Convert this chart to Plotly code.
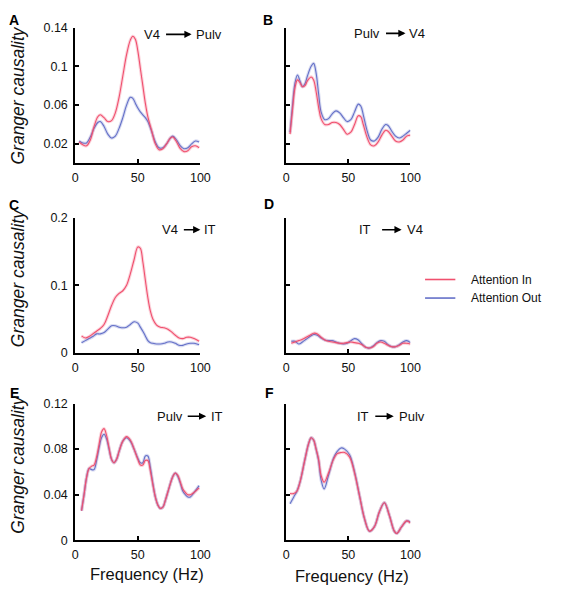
import plotly.graph_objects as go

# ---------------- data ----------------
freq_A = [3, 6, 9, 12, 15, 18, 20, 23, 26, 29, 32, 35, 38, 41, 44, 46, 48, 50, 52, 54, 56, 58, 61, 64, 67, 70, 73, 76, 78, 81, 84, 87, 90, 93, 96, 99]
a_in = [0.022, 0.019, 0.018, 0.024, 0.038, 0.048, 0.050, 0.047, 0.043, 0.044, 0.052, 0.068, 0.090, 0.112, 0.127, 0.131, 0.128, 0.116, 0.098, 0.080, 0.062, 0.048, 0.034, 0.020, 0.014, 0.015, 0.020, 0.026, 0.027, 0.022, 0.015, 0.012, 0.013, 0.017, 0.018, 0.016]
a_out = [0.023, 0.021, 0.021, 0.027, 0.036, 0.042, 0.043, 0.038, 0.030, 0.026, 0.028, 0.036, 0.047, 0.060, 0.068, 0.067, 0.062, 0.057, 0.053, 0.050, 0.047, 0.043, 0.033, 0.022, 0.016, 0.016, 0.020, 0.026, 0.028, 0.024, 0.018, 0.015, 0.016, 0.020, 0.023, 0.022]

freq_B = [3, 5, 7, 9, 11, 13, 15, 17, 20, 22, 24, 26, 28, 31, 34, 37, 40, 43, 46, 49, 52, 55, 58, 60, 62, 65, 68, 71, 74, 77, 80, 82, 85, 88, 91, 94, 97, 100]
b_in = [0.030, 0.055, 0.078, 0.086, 0.083, 0.079, 0.080, 0.085, 0.089, 0.086, 0.074, 0.058, 0.046, 0.040, 0.040, 0.042, 0.042, 0.040, 0.035, 0.030, 0.032, 0.040, 0.049, 0.048, 0.040, 0.027, 0.019, 0.018, 0.022, 0.029, 0.034, 0.033, 0.028, 0.023, 0.022, 0.024, 0.028, 0.029]
b_out = [0.032, 0.060, 0.083, 0.091, 0.085, 0.079, 0.082, 0.090, 0.100, 0.103, 0.093, 0.072, 0.053, 0.045, 0.046, 0.051, 0.054, 0.052, 0.047, 0.043, 0.045, 0.053, 0.061, 0.059, 0.050, 0.034, 0.024, 0.023, 0.027, 0.035, 0.040, 0.039, 0.033, 0.028, 0.026, 0.028, 0.031, 0.034]

freq_C = [5, 8, 11, 14, 17, 20, 23, 26, 29, 32, 35, 38, 41, 44, 47, 50, 52, 54, 56, 58, 60, 62, 65, 68, 71, 74, 77, 80, 83, 86, 89, 92, 95, 99]
c_in = [0.025, 0.022, 0.024, 0.028, 0.032, 0.036, 0.042, 0.055, 0.070, 0.082, 0.088, 0.092, 0.100, 0.117, 0.138, 0.157, 0.155, 0.135, 0.108, 0.082, 0.062, 0.050, 0.041, 0.038, 0.037, 0.035, 0.031, 0.026, 0.022, 0.021, 0.023, 0.023, 0.021, 0.017]
c_out = [0.015, 0.018, 0.021, 0.024, 0.028, 0.028, 0.030, 0.035, 0.040, 0.040, 0.038, 0.037, 0.038, 0.042, 0.046, 0.044, 0.038, 0.032, 0.025, 0.018, 0.015, 0.014, 0.013, 0.013, 0.014, 0.016, 0.016, 0.014, 0.011, 0.011, 0.013, 0.014, 0.014, 0.012]

freq_D = [4, 7, 10, 13, 16, 19, 22, 25, 28, 31, 34, 37, 40, 43, 46, 49, 52, 55, 58, 61, 64, 67, 70, 73, 76, 79, 82, 85, 88, 91, 94, 97, 100]
d_in = [0.014, 0.016, 0.018, 0.020, 0.023, 0.026, 0.029, 0.028, 0.023, 0.019, 0.017, 0.016, 0.015, 0.014, 0.014, 0.015, 0.016, 0.015, 0.014, 0.012, 0.008, 0.007, 0.009, 0.014, 0.016, 0.014, 0.011, 0.009, 0.009, 0.011, 0.014, 0.014, 0.013]
d_out = [0.017, 0.017, 0.013, 0.016, 0.020, 0.024, 0.027, 0.026, 0.022, 0.019, 0.018, 0.018, 0.016, 0.014, 0.013, 0.014, 0.018, 0.021, 0.019, 0.013, 0.008, 0.007, 0.010, 0.015, 0.018, 0.017, 0.012, 0.009, 0.009, 0.012, 0.016, 0.018, 0.015]

freq_E = [5, 7, 9, 11, 13, 15, 17, 19, 21, 23, 25, 27, 29, 31, 33, 35, 38, 41, 44, 47, 50, 52, 54, 56, 58, 60, 62, 64, 66, 68, 70, 72, 75, 78, 80, 82, 84, 86, 88, 90, 92, 95, 99]
e_in = [0.026, 0.040, 0.055, 0.063, 0.065, 0.066, 0.073, 0.084, 0.095, 0.098, 0.092, 0.081, 0.071, 0.068, 0.071, 0.078, 0.087, 0.091, 0.088, 0.080, 0.071, 0.066, 0.066, 0.070, 0.070, 0.061, 0.049, 0.038, 0.031, 0.028, 0.029, 0.035, 0.046, 0.056, 0.059, 0.057, 0.051, 0.045, 0.042, 0.040, 0.040, 0.042, 0.046]
e_out = [0.026, 0.040, 0.055, 0.063, 0.062, 0.062, 0.070, 0.081, 0.090, 0.093, 0.089, 0.080, 0.071, 0.068, 0.071, 0.078, 0.087, 0.090, 0.087, 0.080, 0.072, 0.068, 0.068, 0.074, 0.074, 0.064, 0.050, 0.038, 0.031, 0.028, 0.029, 0.035, 0.046, 0.056, 0.059, 0.056, 0.050, 0.043, 0.040, 0.038, 0.038, 0.042, 0.048]

freq_F = [3, 6, 8.5, 11, 15, 18, 20, 22, 24, 26, 28, 30.5, 34, 38, 41, 44, 47, 51, 55, 59, 63, 67, 71, 75, 79, 83, 87, 89, 93, 97, 100]
f_in = [0.041, 0.041, 0.043, 0.051, 0.071, 0.085, 0.090, 0.088, 0.080, 0.071, 0.057, 0.051, 0.059, 0.071, 0.076, 0.077, 0.077, 0.073, 0.059, 0.039, 0.019, 0.008, 0.012, 0.025, 0.033, 0.022, 0.008, 0.006, 0.012, 0.017, 0.015]
f_out = [0.032, 0.038, 0.043, 0.051, 0.071, 0.085, 0.090, 0.088, 0.080, 0.070, 0.053, 0.045, 0.057, 0.072, 0.078, 0.081, 0.080, 0.075, 0.060, 0.039, 0.019, 0.008, 0.012, 0.025, 0.033, 0.022, 0.008, 0.006, 0.012, 0.017, 0.016]

panel_letters = ["A", "B", "C", "D", "E", "F"]
pathways = [("V4", "Pulv"), ("Pulv", "V4"), ("V4", "IT"), ("IT", "V4"), ("Pulv", "IT"), ("IT", "Pulv")]
x_ticks = [0, 50, 100]
y_ticks_row1 = [0.02, 0.06, 0.1, 0.14]
y_ticks_row2 = [0, 0.1, 0.2]
y_ticks_row3 = [0, 0.04, 0.08, 0.12]
series_names = ["Attention In", "Attention Out"]

# ---------------- layout helpers ----------------
W, H = 565, 601
FONT = "Arial, Liberation Sans, Helvetica, sans-serif"
RED = "#f0506e"
RED_BAND = "rgba(240,80,110,0.25)"
BLUE = "#6470c8"
BLUE_BAND = "rgba(100,112,200,0.25)"


def px(x):
    return x / W


def py(y):
    return 1 - y / H


panels = [
    (freq_A, a_in, a_out, "x", "y"),
    (freq_B, b_in, b_out, "x2", "y2"),
    (freq_C, c_in, c_out, "x3", "y3"),
    (freq_D, d_in, d_out, "x4", "y4"),
    (freq_E, e_in, e_out, "x5", "y5"),
    (freq_F, f_in, f_out, "x6", "y6"),
]

fig = go.Figure()
for fr, vin, vout, xa, ya in panels:
    for vals, band, core in ((vout, BLUE_BAND, BLUE), (vin, RED_BAND, RED)):
        fig.add_trace(go.Scatter(x=fr, y=vals, xaxis=xa, yaxis=ya, mode="lines",
                                 line=dict(color=band, width=3.2, shape="spline", smoothing=1.0),
                                 showlegend=False, hoverinfo="skip"))
        fig.add_trace(go.Scatter(x=fr, y=vals, xaxis=xa, yaxis=ya, mode="lines",
                                 line=dict(color=core, width=1.1, shape="spline", smoothing=1.0),
                                 showlegend=False))

col_dom = [[px(74), px(202)], [px(290), px(417)]]
row_dom = [[py(160), py(21)], [py(354), py(216)], [py(546), py(406)]]
row_range = [[0, 0.14], [0, 0.2], [0, 0.12]]
row_ticks = [y_ticks_row1, y_ticks_row2, y_ticks_row3]
row_ticktext = [["0.02", "0.06", "0.1", "0.14"], ["0", "0.1", "0.2"], ["0", "0.04", "0.08", "0.12"]]

layout = dict(width=W, height=H, margin=dict(l=0, r=0, t=0, b=0),
              plot_bgcolor="white", paper_bgcolor="white", showlegend=False,
              font=dict(family=FONT, color="#111"))
for i in range(6):
    r, c = divmod(i, 2)
    sfx = "" if i == 0 else str(i + 1)
    layout["xaxis" + sfx] = dict(domain=col_dom[c], range=[0, 100], anchor="y" + sfx,
                                 tickmode="array", tickvals=x_ticks, ticks="inside", ticklen=4,
                                 tickwidth=1.5, tickcolor="black", showline=True, linecolor="black",
                                 linewidth=2, showgrid=False, zeroline=False,
                                 tickfont=dict(size=12.5, family=FONT, color="#111"),
                                 ticklabelstandoff=2)
    layout["yaxis" + sfx] = dict(domain=row_dom[r], range=row_range[r], anchor="x" + sfx,
                                 tickmode="array", tickvals=row_ticks[r], ticktext=row_ticktext[r],
                                 showticklabels=(c == 0),
                                 ticks="inside", ticklen=4, tickwidth=1.5, tickcolor="black",
                                 showline=True, linecolor="black", linewidth=2, showgrid=False,
                                 zeroline=False, tickfont=dict(size=12.5, family=FONT, color="#111"),
                                 ticklabelstandoff=3)
fig.update_layout(**layout)

ann = []
# panel letters
letter_pos = [(11, 13), (271, 13), (11, 203), (272, 202), (12, 395), (273, 395)]
for L, (lx, ly) in zip(panel_letters, letter_pos):
    ann.append(dict(text="<b>%s</b>" % L, x=px(lx), y=py(ly), xref="paper", yref="paper",
                    showarrow=False, xanchor="center", yanchor="middle",
                    font=dict(size=14, family=FONT, color="black")))

# pathway labels: (left text right edge, arrow start, arrow end, right text left edge, y)
path_geo = [(163, 166, 193, 196, 28), (388, 391, 412, 414, 27), (181, 184, 202, 204, 228),
            (379, 387, 408, 411, 228), (186, 188, 208, 211, 419), (377, 380, 400, 403, 419)]
for (src, dst), (lt, a0, a1, rt, yy) in zip(pathways, path_geo):
    ann.append(dict(text=src, x=px(lt), y=py(yy), xref="paper", yref="paper", showarrow=False,
                    xanchor="right", yanchor="middle", font=dict(size=13, family=FONT, color="#111")))
    ann.append(dict(text=dst, x=px(rt), y=py(yy), xref="paper", yref="paper", showarrow=False,
                    xanchor="left", yanchor="middle", font=dict(size=13, family=FONT, color="#111")))
    ann.append(dict(text="", x=px(a1), y=py(yy), xref="paper", yref="paper", showarrow=True,
                    ax=-(a1 - a0), ay=0, arrowhead=2, arrowsize=0.9, arrowwidth=1.6,
                    arrowcolor="black", standoff=0, startstandoff=0))

# y titles
for cy in (91, 278, 469):
    ann.append(dict(text="<i>Granger causality</i>", x=px(15), y=py(cy), xref="paper", yref="paper",
                    showarrow=False, textangle=-90, xanchor="center", yanchor="middle",
                    font=dict(size=17.5, family=FONT, color="#111")))
# x titles
for cx, cy in ((147, 581), (357, 583)):
    ann.append(dict(text="Frequency (Hz)", x=px(cx), y=py(cy), xref="paper", yref="paper",
                    showarrow=False, xanchor="center", yanchor="middle",
                    font=dict(size=16.5, family=FONT, color="#111")))

# legend
shapes = []
for name, col, ly in ((series_names[0], RED, 279), (series_names[1], BLUE, 298)):
    shapes.append(dict(type="line", xref="paper", yref="paper", x0=px(432), x1=px(463),
                       y0=py(ly), y1=py(ly), line=dict(color=col, width=1.6)))
    ann.append(dict(text=name, x=px(477), y=py(ly), xref="paper", yref="paper", showarrow=False,
                    xanchor="left", yanchor="middle", font=dict(size=12, family=FONT, color="#111")))

fig.update_layout(annotations=ann, shapes=shapes)
fig.write_html("out.html", config=dict(displayModeBar=False),
               post_script="document.body.style.margin='0px';document.body.style.padding='0px';"
                           "document.documentElement.style.overflow='hidden';")
